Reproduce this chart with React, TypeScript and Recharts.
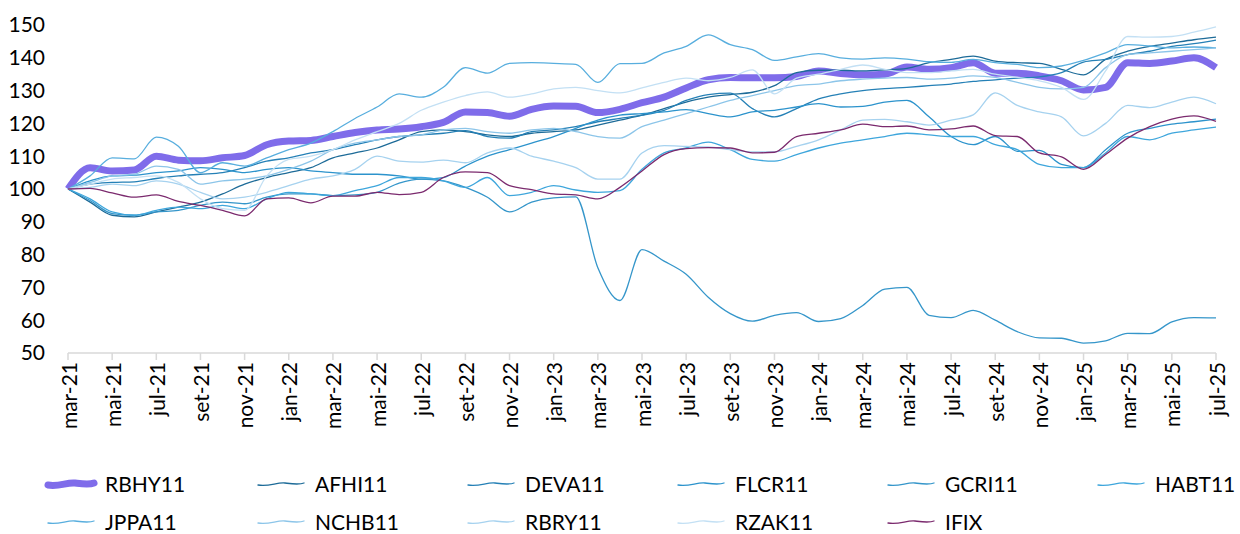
import React from 'react';
import { LineChart, Line, XAxis, YAxis, Legend } from 'recharts';

const months = [
  'mar-21','abr-21','mai-21','jun-21','jul-21','ago-21','set-21','out-21','nov-21','dez-21',
  'jan-22','fev-22','mar-22','abr-22','mai-22','jun-22','jul-22','ago-22','set-22','out-22','nov-22','dez-22',
  'jan-23','fev-23','mar-23','abr-23','mai-23','jun-23','jul-23','ago-23','set-23','out-23','nov-23','dez-23',
  'jan-24','fev-24','mar-24','abr-24','mai-24','jun-24','jul-24','ago-24','set-24','out-24','nov-24','dez-24',
  'jan-25','fev-25','mar-25','abr-25','mai-25','jun-25','jul-25',
];

const RBHY11 = [100,106.5,105.5,105.8,110,108.8,108.6,109.5,110.2,113.5,114.6,114.8,116,117.2,118,118.3,119,120.3,123.5,123.3,122.2,124.3,125.3,125.2,123.3,124.3,126.3,128,130.8,133.3,134,133.9,133.9,134.3,136,135.2,134.8,135,137.2,136.5,137,138.5,135.3,135.3,134.5,133,130.2,131,138.5,138.3,139,140,137];
const AFHI11 = [100,96,92,91.5,93,94.5,96,98.5,101.5,103.5,105,106.5,109.5,111,112.5,115,117.5,118,117.5,116.5,116,117,117.5,118,119.5,121,122.5,124.5,126.5,128,128.8,129.5,131.5,135.5,136.2,136.2,136,136.3,136.8,138.5,139.5,140.5,139,138.5,138.3,136.5,134.8,139.5,142,143.5,144.5,145.5,146.3];
const DEVA11 = [100,101.5,102,102.2,103.2,104,104.5,105,106.5,108.5,109.5,111,112,113.5,115,116,116.5,117,117.8,116,115.5,117.5,118,119,120.5,121.5,122.5,124,127,128.8,129.2,124.5,122,124.5,127.5,129,130,130.6,131,131.5,132,132.8,133.3,133.8,134.2,135.5,138.7,139.5,141,142,143.5,144.3,145.4];
const FLCR11 = [100,102.5,104,104.2,105,105.5,106.5,106,105,106,106.5,105.5,105,104.5,104.5,104,103,103.5,107,110,112,114,116,118.5,121,122.5,123,123.5,124.2,123,122,123.5,124,125,126,125,125.2,126.5,127,122,116,113.5,116,111.5,111.8,107.5,106.5,112,117,118.5,119.8,120.5,121.3];
const GCRI11 = [100,96.5,92.5,92,93,93.5,95,96,95.5,97.5,98.5,98.5,98,98.2,99,101.8,103,102.5,100.5,97.5,93,96,97.3,97.6,76,66,81.5,78,74,67,62,59.7,61.5,62.3,59.6,60.5,64.5,69.5,70,61.5,60.8,63,60,56.5,54.6,54.5,53,53.7,56,55.9,59.5,60.8,60.7];
const HABT11 = [100,97,93,92,93.5,94.5,94,95,94,97,99,98.5,98,99.5,101,103.5,103.5,102.5,100.5,103.5,98,99,101,99.7,99,99.5,106,111,112.5,114.3,112,109,108.5,110.5,112.5,114,115,116,117,116.5,116,116,113.5,112,107.5,106.5,106.5,111,116,115,117,118,118.9];
const JPPA11 = [100,104,109.5,109.2,115.8,113,105,108,107,109.5,112,114,117.5,121.5,125,129,128,131,137,135.3,138.3,138.5,138.3,138,132.5,138.2,138.3,141.5,143.5,147,144,142.5,139.2,140.3,141.3,140,139.6,140,139.6,138.8,138.6,139.5,138.5,138,137,137.5,139.2,141.5,144,143.6,143,143.3,143];
const NCHB11 = [100,102,104,104.5,107,106,101.5,102.5,103,104,106,108.5,112,114,115,116,116.5,118,118.5,117.5,117,118,118.5,117.5,116,115.5,119,121,123,125,127,128.5,130,131.5,132,133,133.5,133.8,134,133.5,133.8,134.5,134,132.5,131,130.5,131,137,141,141.5,142,142.5,143];
const RBRY11 = [100,100.5,101.5,101,102.5,101.5,99,97,97.5,99,101,103,104,106,110,108.5,108.2,108.8,108,111,112.5,110,108.5,106.5,103,103,111,113.2,113,112.8,112,111.3,111.3,113,115,118,121,121.2,120.5,119.5,121,122.6,129.3,125.5,123.5,122,116.2,120,125.5,124.8,126.5,128,126];
const RZAK11 = [100,101.5,103,103.5,104,102,97,94,93.5,104,109,110,112,115,117.5,120,124,126.5,128.5,129.6,128,129,130.5,131,130,129.3,130.8,132.5,133.8,133,134,136.3,129,133.8,135,136.5,137.8,136.5,135.5,135.5,136,136.5,135,134,133,131,127.3,136,146.5,146.3,146.5,147.8,149.4];
const IFIX = [100,100.2,98.8,97.5,98.2,96.2,95,93.5,91.8,97,97.3,95.8,97.8,97.8,99,98.3,99,103.5,105.2,105,101,99.8,98.5,98.2,97,100.5,105.5,110.5,112.3,112.6,112.5,111,111.2,116,117,118,119.8,119,119.2,118,118.3,119.2,116.3,116,111,109.8,106,110.5,115.5,119,121.3,122.3,120.6];

const yTicks = [50, 60, 70, 80, 90, 100, 110, 120, 130, 140, 150];

const seriesList = [
  { key: 'RBHY11', values: RBHY11, color: '#7f6cea', width: 7 },
  { key: 'AFHI11', values: AFHI11, color: '#1d6b98', width: 1.3 },
  { key: 'DEVA11', values: DEVA11, color: '#2580b6', width: 1.3 },
  { key: 'FLCR11', values: FLCR11, color: '#2c93cc', width: 1.3 },
  { key: 'GCRI11', values: GCRI11, color: '#3596ca', width: 1.3 },
  { key: 'HABT11', values: HABT11, color: '#3ea6dc', width: 1.3 },
  { key: 'JPPA11', values: JPPA11, color: '#58aede', width: 1.3 },
  { key: 'NCHB11', values: NCHB11, color: '#8cc5e9', width: 1.3 },
  { key: 'RBRY11', values: RBRY11, color: '#a6d2ef', width: 1.3 },
  { key: 'RZAK11', values: RZAK11, color: '#c3e0f4', width: 1.3 },
  { key: 'IFIX', values: IFIX, color: '#7b2a6e', width: 1.3 },
];

const data = months.map((m, i) => {
  const row: Record<string, any> = { month: m };
  seriesList.forEach((s) => { row[s.key] = s.values[i]; });
  return row;
});

const FONT = 'Lato, "Open Sans", sans-serif';

const XTick = (props: any) => {
  const { x, y, payload } = props;
  return (
    <g transform={`translate(${x},${y})`}>
      <text
        x={0}
        y={0}
        transform="rotate(-90)"
        textAnchor="end"
        dominantBaseline="central"
        fontSize={21}
        fontFamily={FONT}
        fill="#000"
      >
        {payload.value}
      </text>
    </g>
  );
};

const LegendBox = () => (
  <div style={{ position: 'relative', width: 1240, height: 79, fontFamily: FONT }}>
    {seriesList.map((s, i) => {
      const col = i % 6;
      const row = Math.floor(i / 6);
      return (
        <div
          key={s.key}
          style={{
            position: 'absolute',
            left: 45 + col * 210,
            top: 10 + row * 38,
            height: 38,
            display: 'flex',
            alignItems: 'center',
          }}
        >
          <svg width={52} height={14} style={{ overflow: 'visible' }}>
            <path
              d="M3,8 C14,10 22,5 30,6 S44,8 49,6"
              fill="none"
              stroke={s.color}
              strokeWidth={s.width}
              strokeLinecap="round"
            />
          </svg>
          <span style={{ marginLeft: 8, fontSize: 21, color: '#000', lineHeight: '38px', whiteSpace: 'nowrap' }}>{s.key}</span>
        </div>
      );
    })}
  </div>
);

export default function App() {
  return (
    <div style={{ position: 'absolute', left: 0, top: 0, width: 1240, height: 534, background: '#fff' }}>
      <LineChart width={1240} height={534} data={data} margin={{ top: 25, right: 24, bottom: 0, left: 0 }}>
        <XAxis
          dataKey="month"
          interval={1}
          height={102}
          tick={<XTick />}
          tickSize={7}
          tickLine={{ stroke: '#d9d9d9', strokeWidth: 1.5 }}
          axisLine={{ stroke: '#d9d9d9', strokeWidth: 1.5 }}
        />
        <YAxis
          domain={[50, 150]}
          ticks={yTicks}
          width={68}
          axisLine={false}
          tickLine={false}
          tickSize={0}
          tickMargin={23}
          tick={{ fontSize: 21, fill: '#000', fontFamily: FONT }}
          interval={0}
        />
        <Legend
          verticalAlign="bottom"
          content={() => <LegendBox />}
          wrapperStyle={{ left: 0, width: 1240, height: 79 }}
        />
        {seriesList.map((s) => (
          <Line
            key={s.key}
            dataKey={s.key}
            type="monotone"
            stroke={s.color}
            strokeWidth={s.width}
            dot={false}
            activeDot={false}
            isAnimationActive={false}
          />
        ))}
      </LineChart>
    </div>
  );
}
